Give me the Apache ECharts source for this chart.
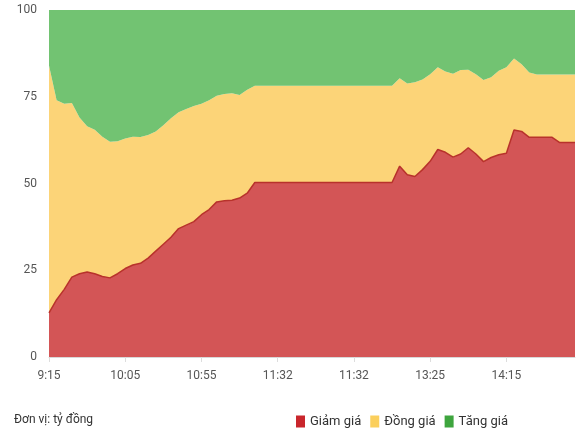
<!DOCTYPE html>
<html>
<head>
<meta charset="utf-8">
<script src="https://cdn.jsdelivr.net/npm/echarts@6/dist/echarts.min.js"></script>
<style>
  html, body { margin: 0; padding: 0; background: #fff; }
  #chart { width: 577px; height: 438px; }
</style>
</head>
<body>
<div id="chart"></div>
<script>
// trục thời gian (5 phút một điểm, nghỉ trưa giữ 11:32)
const times = [
  '9:15', '9:20', '9:25', '9:30', '9:35', '9:40', '9:45', '9:50', '9:55', '10:00',
  '10:05', '10:10', '10:15', '10:20', '10:25', '10:30', '10:35', '10:40', '10:45', '10:50',
  '10:55', '11:00', '11:05', '11:10', '11:15', '11:20', '11:25', '11:30', '11:32', '11:32',
  '11:32', '11:32', '11:32', '11:32', '11:32', '11:32', '11:32', '11:32', '11:32', '11:32',
  '11:32', '11:32', '11:32', '11:32', '11:32', '13:00', '13:05', '13:10', '13:15', '13:20',
  '13:25', '13:30', '13:35', '13:40', '13:45', '13:50', '13:55', '14:00', '14:05', '14:10',
  '14:15', '14:20', '14:25', '14:30', '14:35', '14:40', '14:45', '14:50', '14:55', '15:00'
]

const giamGia = [
  12.7, 16.5, 19.5, 23, 24, 24.5, 24, 23.2, 22.8, 24,
  25.5, 26.5, 27, 28.5, 30.5, 32.5, 34.5, 37, 38, 39,
  41, 42.5, 44.7, 45, 45.2, 45.8, 47.2, 50.3, 50.3, 50.3,
  50.3, 50.3, 50.3, 50.3, 50.3, 50.3, 50.3, 50.3, 50.3, 50.3,
  50.3, 50.3, 50.3, 50.3, 50.3, 50.3, 55, 52.5, 52, 54,
  56.4, 59.8, 59, 57.6, 58.5, 60.3, 58.5, 56.3, 57.5, 58.3,
  58.7, 65.4, 65, 63.3, 63.3, 63.3, 63.3, 61.8, 61.8, 61.8
]

const dongGia = [
  71.3, 57.5, 53.5, 50.2, 45, 42, 41.5, 40.3, 39.2, 38.2,
  37.5, 37, 36.4, 35.5, 34.5, 34.3, 34.3, 33.5, 33.5, 33.3,
  32, 31.5, 30.6, 30.8, 30.8, 29.7, 29.8, 27.9, 27.9, 27.9,
  27.9, 27.9, 27.9, 27.9, 27.9, 27.9, 27.9, 27.9, 27.9, 27.9,
  27.9, 27.9, 27.9, 27.9, 27.9, 27.9, 25.3, 26.3, 27.2, 26,
  25.1, 23.7, 23.3, 24, 24.2, 22.5, 23, 23.5, 23.1, 24.2,
  24.8, 20.6, 19.4, 18.7, 18.1, 18.1, 18.1, 19.6, 19.6, 19.6
]

const tangGia = [
  16, 26, 27, 26.8, 31, 33.5, 34.5, 36.5, 38, 37.8,
  37, 36.5, 36.6, 36, 35, 33.2, 31.2, 29.5, 28.5, 27.7,
  27, 26, 24.7, 24.2, 24, 24.5, 23, 21.8, 21.8, 21.8,
  21.8, 21.8, 21.8, 21.8, 21.8, 21.8, 21.8, 21.8, 21.8, 21.8,
  21.8, 21.8, 21.8, 21.8, 21.8, 21.8, 19.7, 21.2, 20.8, 20,
  18.5, 16.5, 17.7, 18.4, 17.3, 17.2, 18.5, 20.2, 19.4, 17.5,
  16.5, 14, 15.6, 18, 18.6, 18.6, 18.6, 18.6, 18.6, 18.6
]

const seriesNames = ['Giảm giá', 'Đồng giá', 'Tăng giá']

const font = "'Liberation Sans Narrow', 'Roboto', sans-serif"

const chart = echarts.init(document.getElementById('chart'))

const option = {
  animation: false,
  textStyle: { fontFamily: font },
  title: {
    text: 'Đơn vị: tỷ đồng',
    left: 14,
    top: 414,
    padding: 0,
    textStyle: { fontSize: 12, fontWeight: 'normal', color: '#333', fontFamily: font }
  },
  legend: {
    left: 296,
    top: 415,
    padding: 0,
    icon: 'rect',
    itemWidth: 9,
    itemHeight: 12,
    itemGap: 9,
    textStyle: { fontSize: 13, color: '#333', fontFamily: font },
    data: [
      { name: seriesNames[0], itemStyle: { color: '#c9262c' } },
      { name: seriesNames[1], itemStyle: { color: '#fbcf5c' } },
      { name: seriesNames[2], itemStyle: { color: '#3ea53e' } }
    ]
  },
  grid: { left: 49, right: 2, top: 10, bottom: 81 },
  xAxis: {
    type: 'category',
    boundaryGap: false,
    data: times,
    axisLine: { lineStyle: { color: '#d8d8d8' } },
    axisTick: { interval: 9, length: 5, lineStyle: { color: '#ddd' } },
    axisLabel: { interval: 9, margin: 13, fontSize: 12, color: '#555', fontFamily: font }
  },
  yAxis: {
    type: 'value',
    min: 0,
    max: 100,
    interval: 25,
    axisLine: { show: false },
    axisTick: { show: false },
    splitLine: { lineStyle: { color: '#eee' } },
    axisLabel: { margin: 12, fontSize: 12, color: '#555', fontFamily: font }
  },
  series: [
    {
      name: seriesNames[0],
      type: 'line',
      stack: 'total',
      data: giamGia,
      symbol: 'none',
      itemStyle: { color: '#c9262c' },
      lineStyle: { color: '#b8322b', width: 1.5 },
      areaStyle: { color: '#d35556', opacity: 1 }
    },
    {
      name: seriesNames[1],
      type: 'line',
      stack: 'total',
      data: dongGia,
      symbol: 'none',
      itemStyle: { color: '#fbcf5c' },
      lineStyle: { width: 0 },
      areaStyle: { color: '#fcd478', opacity: 1 }
    },
    {
      name: seriesNames[2],
      type: 'line',
      stack: 'total',
      data: tangGia,
      symbol: 'none',
      itemStyle: { color: '#3ea53e' },
      lineStyle: { width: 0 },
      areaStyle: { color: '#72c372', opacity: 1 }
    }
  ]
}

chart.setOption(option)
</script>
</body>
</html>
